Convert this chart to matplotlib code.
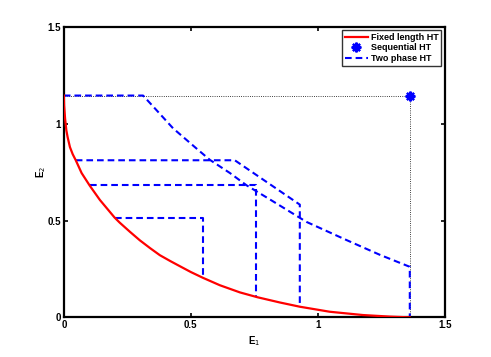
import numpy as np
import matplotlib
matplotlib.use('Agg')
from matplotlib import pyplot as plt

plt.rcParams['font.family'] = ['Liberation Sans', 'DejaVu Sans']

# fixed length HT tradeoff curve
fl_x = [0, 0.001, 0.003, 0.005, 0.010, 0.015, 0.024, 0.035, 0.047, 0.070, 0.102, 0.142,
        0.200, 0.220, 0.260, 0.299, 0.340, 0.378, 0.420, 0.457, 0.500, 0.548, 0.614,
        0.693, 0.762, 0.850, 0.929, 1.047, 1.178, 1.283, 1.362]
fl_y = [1.145, 1.095, 1.060, 1.025, 0.965, 0.930, 0.879, 0.842, 0.811, 0.745, 0.680, 0.606,
        0.515, 0.489, 0.442, 0.398, 0.357, 0.321, 0.290, 0.264, 0.234, 0.204, 0.166,
        0.129, 0.104, 0.077, 0.055, 0.029, 0.012, 0.004, 0.0]

# sequential HT point
seq_x = 1.362
seq_y = 1.145

# two phase HT paths
tp_top_x = [0, 0.312, 0.352, 0.430, 0.522, 0.575, 0.654, 0.719, 0.811, 0.955,
            1.113, 1.244, 1.362, 1.362]
tp_top_y = [1.145, 1.145, 1.088, 0.976, 0.872, 0.813, 0.745, 0.682, 0.609, 0.493,
            0.399, 0.323, 0.261, 0.0]
tp_a_x = [0.047, 0.673, 0.929, 0.929]
tp_a_y = [0.811, 0.811, 0.582, 0.055]
tp_b_x = [0.102, 0.758, 0.758]
tp_b_y = [0.682, 0.682, 0.104]
tp_c_x = [0.200, 0.548, 0.548]
tp_c_y = [0.513, 0.513, 0.204]

fig = plt.figure(figsize=(4.91, 3.57), dpi=100)
ax = fig.add_axes([0.130, 0.111, 0.776, 0.814])

dash = (3.2, 1.9)
ax.plot([0, seq_x, seq_x], [seq_y, seq_y, 0], color='k', ls=':', lw=0.6, zorder=1)
l1, = ax.plot(fl_x, fl_y, color='red', lw=1.6, label='Fixed length HT', zorder=3)
l2, = ax.plot([seq_x], [seq_y], ls='none', marker=(8, 2, 0), ms=7, mew=1.6,
              color='blue', label='Sequential HT', zorder=4)
l3, = ax.plot(tp_top_x, tp_top_y, color='blue', lw=1.5, dashes=dash,
              label='Two phase HT', zorder=2)
for px, py in [(tp_a_x, tp_a_y), (tp_b_x, tp_b_y), (tp_c_x, tp_c_y)]:
    ax.plot(px, py, color='blue', lw=1.5, dashes=dash, zorder=2)

ax.set_xlim(0, 1.5)
ax.set_ylim(0, 1.5)
ax.set_xticks([0, 0.5, 1, 1.5])
ax.set_yticks([0, 0.5, 1, 1.5])
ax.set_xticklabels(['0', '0.5', '1', '1.5'], fontweight='bold')
ax.set_yticklabels(['0', '0.5', '1', '1.5'], fontweight='bold')
ax.tick_params(direction='in', length=3, width=1.2, labelsize=7, top=True, right=True,
               pad=2)
for s in ax.spines.values():
    s.set_linewidth(1.6)
ax.set_xlabel('E$_1$', fontsize=7, fontweight='bold', labelpad=3)
ax.set_ylabel('E$_2$', fontsize=7, fontweight='bold', labelpad=0)

leg = ax.legend(loc='upper right', prop={'weight': 'bold', 'size': 6.5},
                frameon=True, fancybox=False, edgecolor='k', borderpad=0.3,
                labelspacing=0.15, handlelength=2.6, handletextpad=0.3,
                borderaxespad=0.4)
leg.get_frame().set_linewidth(1.0)

fig.savefig('out.png', dpi=100)
